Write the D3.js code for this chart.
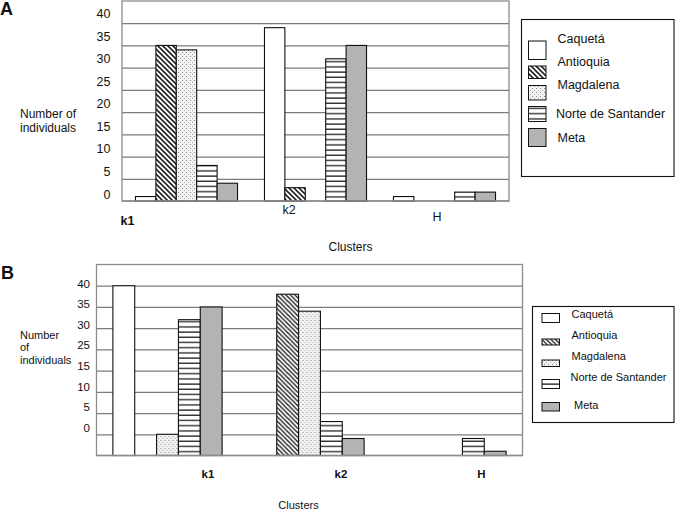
<!DOCTYPE html>
<html>
<head>
<meta charset="utf-8">
<script src="https://cdn.jsdelivr.net/npm/d3@7"></script>
<style>
  html, body { margin: 0; padding: 0; background: #fff; }
  svg { display: block; font-family: "Liberation Sans", Arial, sans-serif; }
</style>
</head>
<body>
<svg id="chart" width="675" height="510"></svg>
<script>
// ---------- DATA ----------
const clusters = ["k1", "k2", "H"];
const seriesNames = ["Caquetá", "Antioquia", "Magdalena", "Norte de Santander", "Meta"];

// Panel A values (per cluster k1, k2, H)
const caquetaA   = [1, 39, 1];
const antioquiaA = [35, 3, 0];
const magdalenaA = [34, 0, 0];
const norteA     = [8, 32, 2];
const metaA      = [4, 35, 2];

// Panel B values (per cluster k1, k2, H)
const caquetaB   = [40, 0, 0];
const antioquiaB = [0, 38, 0];
const magdalenaB = [5, 34, 0];
const norteB     = [32, 8, 4];
const metaB      = [35, 4, 1];

// Tick labels as printed in the figure
const tickLabelsA = ["40", "35", "30", "25", "20", "15", "10", "5", "0"];
const tickLabelsB = ["40", "35", "30", "25", "15", "10", "5", "0"];
const gridValues = [5, 10, 15, 20, 25, 30, 35, 40];

// ---------- DRAW ----------
const svg = d3.select("#chart");
const defs = svg.append("defs");

// patterns
function diag(id, s, w) {
  const p = defs.append("pattern").attr("id", id).attr("patternUnits", "userSpaceOnUse")
    .attr("width", s).attr("height", s);
  p.append("rect").attr("width", s).attr("height", s).attr("fill", "#fff");
  p.append("path").attr("d", `M0,0 L${s},${s} M${-s/2},${s/2} L${s/2},${s*1.5} M${s/2},${-s/2} L${s*1.5},${s/2}`)
    .attr("stroke", "#222").attr("stroke-width", w);
}
function horiz(id, s, w) {
  const p = defs.append("pattern").attr("id", id).attr("patternUnits", "userSpaceOnUse")
    .attr("width", 8).attr("height", s);
  p.append("rect").attr("width", 8).attr("height", s).attr("fill", "#fff");
  p.append("line").attr("x1", 0).attr("x2", 8).attr("y1", s - 0.7).attr("y2", s - 0.7)
    .attr("stroke", "#222").attr("stroke-width", w);
}
function dots(id) {
  const p = defs.append("pattern").attr("id", id).attr("patternUnits", "userSpaceOnUse")
    .attr("width", 4).attr("height", 4);
  p.append("rect").attr("width", 4).attr("height", 4).attr("fill", "#f2f2f2");
  p.append("rect").attr("x", 0).attr("y", 0).attr("width", 1).attr("height", 1).attr("fill", "#888");
  p.append("rect").attr("x", 2).attr("y", 2).attr("width", 1).attr("height", 1).attr("fill", "#aaa");
}
diag("diagA", 5, 1.6);
horiz("horA", 5.2, 1.3);
dots("dotA");
diag("diagB", 4.5, 1.4);
horiz("horB", 5.2, 1.3);

const fillsA = ["#fff", "url(#diagA)", "url(#dotA)", "url(#horA)", "#b3b3b3"];
const fillsB = ["#fff", "url(#diagB)", "url(#dotA)", "url(#horB)", "#b3b3b3"];

function drawPanel(cfg) {
  const g = svg.append("g");
  const { left, right, top, bottom } = cfg.plot;

  const x0 = d3.scaleBand().domain(clusters).range([left, right]).paddingInner(0).paddingOuter(0);
  const x1 = d3.scaleBand().domain(seriesNames).range([0, x0.bandwidth()])
    .paddingInner(0).paddingOuter(cfg.groupPad);
  const y = d3.scaleLinear().domain([0, 45]).range([bottom, top]);

  // frame background
  g.append("rect").attr("x", left).attr("y", top).attr("width", right - left).attr("height", bottom - top)
    .attr("fill", "#fff").attr("stroke", "#8c8c8c").attr("stroke-width", 1.3);

  // gridlines via axis
  const grid = g.append("g").attr("transform", `translate(${left},0)`)
    .call(d3.axisLeft(y).tickValues(gridValues).tickSize(-(right - left)).tickFormat(""));
  grid.select(".domain").remove();
  grid.selectAll(".tick line").attr("stroke", "#7d7d7d").attr("stroke-width", 1.3);

  // bars
  const rows = clusters.map((c, i) => ({ c, vals: cfg.series.map(s => s[i]) }));
  const grp = g.selectAll(".grp").data(rows).join("g")
    .attr("transform", d => `translate(${x0(d.c)},0)`);
  grp.selectAll("rect")
    .data(d => d.vals.map((v, k) => ({ v, k })).filter(e => e.v > 0))
    .join("rect")
    .attr("x", e => x1(seriesNames[e.k]))
    .attr("y", e => y(e.v))
    .attr("width", x1.bandwidth())
    .attr("height", e => y(0) - y(e.v))
    .attr("fill", e => cfg.fills[e.k])
    .attr("stroke", "#111")
    .attr("stroke-width", 1.1);

  // baseline
  g.append("line").attr("x1", left).attr("x2", right).attr("y1", bottom).attr("y2", bottom)
    .attr("stroke", "#8c8c8c").attr("stroke-width", 1.6);

  // y tick labels (as printed, evenly spaced)
  const yl = d3.scalePoint().domain(cfg.tickLabels).range(cfg.tickRange);
  const ya = g.append("g").attr("transform", `translate(${cfg.tickX},0)`)
    .call(d3.axisLeft(yl).tickSize(0).tickPadding(0));
  ya.select(".domain").remove();
  ya.selectAll("text").attr("font-size", cfg.tickFont).attr("fill", "#111")
    .attr("font-family", "Liberation Sans, Arial, sans-serif");

  // y title
  const yt = g.append("text").attr("font-size", cfg.titleFont).attr("fill", "#111");
  cfg.yTitle.forEach((t, i) => {
    yt.append("tspan").attr("x", cfg.yTitlePos[0]).attr("y", cfg.yTitlePos[1] + i * cfg.yTitleStep)
      .attr("dy", "0.35em").text(t);
  });

  // category labels
  cfg.catPos.forEach((p, i) => {
    g.append("text").attr("x", p[0]).attr("y", p[1]).attr("dy", "0.35em")
      .attr("text-anchor", "middle").attr("font-size", cfg.catFont)
      .attr("font-weight", p[2] ? "bold" : "normal").attr("fill", "#111").text(clusters[i]);
  });

  // x title
  g.append("text").attr("x", cfg.xTitlePos[0]).attr("y", cfg.xTitlePos[1]).attr("dy", "0.35em")
    .attr("text-anchor", "middle").attr("font-size", cfg.xTitleFont).attr("fill", "#111").text("Clusters");

  // panel letter
  g.append("text").attr("x", cfg.letterPos[0]).attr("y", cfg.letterPos[1])
    .attr("font-size", 18).attr("font-weight", "bold").attr("fill", "#111").text(cfg.letter);

  // legend
  const L = cfg.legend;
  g.append("rect").attr("x", L.box[0]).attr("y", L.box[1]).attr("width", L.box[2]).attr("height", L.box[3])
    .attr("fill", "#fff").attr("stroke", "#111").attr("stroke-width", 1.1);
  seriesNames.forEach((s, k) => {
    const sw = L.swatches[k];
    g.append("rect").attr("x", sw[0]).attr("y", sw[1]).attr("width", sw[2]).attr("height", sw[3])
      .attr("fill", cfg.fills[k]).attr("stroke", "#111").attr("stroke-width", 1);
    const tp = L.texts[k];
    g.append("text").attr("x", tp[0]).attr("y", tp[1]).attr("dy", "0.35em")
      .attr("font-size", L.font).attr("fill", "#111").text(s);
  });
}

drawPanel({
  letter: "A", letterPos: [0, 15],
  plot: { left: 122, right: 509, top: 1, bottom: 201 },
  groupPad: 0.66,
  series: [caquetaA, antioquiaA, magdalenaA, norteA, metaA],
  fills: fillsA,
  tickLabels: tickLabelsA, tickRange: [13.5, 194], tickX: 110.5, tickFont: 12.5,
  yTitle: ["Number of", "individuals"], yTitlePos: [20, 114], yTitleStep: 14, titleFont: 12,
  catPos: [[127.5, 221, true], [289, 210, false], [437, 217, false]], catFont: 12.5,
  xTitlePos: [350.5, 247], xTitleFont: 12,
  legend: {
    box: [521.5, 19.5, 152.5, 157], font: 12.5,
    swatches: [[528.5, 41, 17.5, 18.5], [528.5, 66, 17.5, 12.5], [528.5, 85.5, 17.5, 14.5],
               [528.5, 106.5, 17.5, 15], [528.5, 128.5, 17.5, 18]],
    texts: [[557.5, 39], [557.5, 62], [557.5, 84.5], [556, 113.5], [557.5, 137.5]]
  }
});

drawPanel({
  letter: "B", letterPos: [1, 279],
  plot: { left: 96.5, right: 522.5, top: 264.5, bottom: 455.5 },
  groupPad: 0.75,
  series: [caquetaB, antioquiaB, magdalenaB, norteB, metaB],
  fills: fillsB,
  tickLabels: tickLabelsB, tickRange: [283.5, 427.5], tickX: 90, tickFont: 11.5,
  yTitle: ["Number", "of", "individuals"], yTitlePos: [20, 335], yTitleStep: 12.5, titleFont: 11,
  catPos: [[208, 473.5, true], [341, 473.5, true], [481.5, 473.5, true]], catFont: 11.5,
  xTitlePos: [298.5, 505], xTitleFont: 11,
  legend: {
    box: [532.5, 306.5, 141.5, 116], font: 11,
    swatches: [[542, 313.5, 17.5, 9], [542, 339, 17.5, 6], [542, 360, 17.5, 6.5],
               [542, 379.5, 17.5, 9], [542, 402.5, 17.5, 8.5]],
    texts: [[571.5, 314], [571.5, 335], [571.5, 356], [570.5, 377.5], [574, 405]]
  }
});
</script>
</body>
</html>
